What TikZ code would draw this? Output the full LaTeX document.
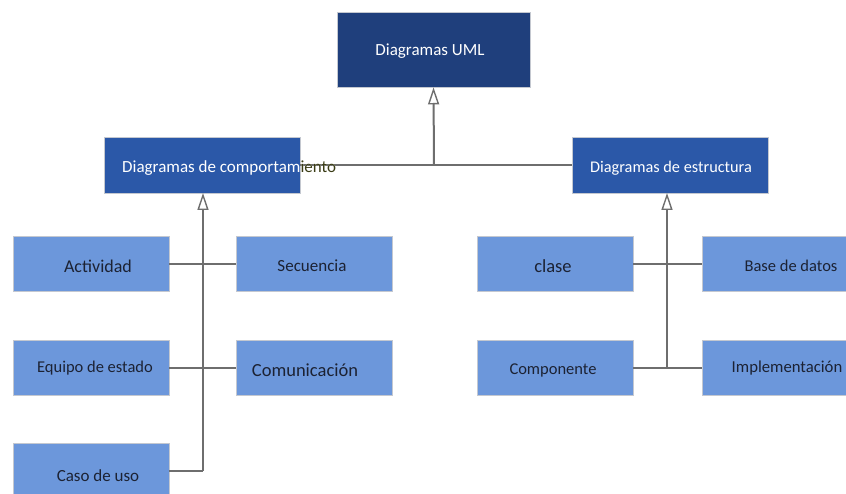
\documentclass[tikz,border=0pt]{standalone}
\usepackage{fontspec}
\setmainfont{Carlito}
\usetikzlibrary{arrows.meta}
\definecolor{topblue}{HTML}{1F3F7C}
\definecolor{midblue}{HTML}{2B58A8}
\definecolor{lowblue}{HTML}{6C97DB}
\definecolor{boxedge}{HTML}{C4C8D0}
\definecolor{linegray}{HTML}{6E6E6E}
\definecolor{lowtext}{HTML}{1C2233}
\begin{document}
\begin{tikzpicture}[x=1pt,y=-1pt,
  topbox/.style={draw=boxedge,line width=0.8pt,fill=topblue,minimum width=193pt,minimum height=75pt,inner sep=0pt},
  midbox/.style={draw=boxedge,line width=0.8pt,fill=midblue,minimum width=196pt,minimum height=56pt,inner sep=0pt},
  lowbox/.style={draw=boxedge,line width=0.8pt,fill=lowblue,minimum width=156pt,minimum height=55pt,inner sep=0pt},
  toplabel/.style={text=white,inner sep=0pt,font=\fontsize{17}{19}\selectfont},
  lowlabel/.style={text=lowtext,inner sep=0pt,font=\fontsize{17}{19}\selectfont},
  conn/.style={draw=linegray,line width=2pt},
  gen/.style={conn,-{Triangle[open,length=17pt,width=11pt,line width=1.4pt]}}
]
\useasboundingbox[fill=white] (0,0) rectangle (846,494);

% top
\node[topbox] (uml) at (433.5,49.5) {};
\node[toplabel] (umlt) at (430,51) {Diagramas UML};

% middle
\node[midbox] (comp) at (202,165) {};
\node[midbox] (estr) at (670,165) {};
\node[toplabel,font=\fontsize{16.3}{18}\selectfont] (estrt) at (671,168) {Diagramas de estructura};

% lower left
\node[lowbox] (act) at (91,264) {};
\node[lowbox] (sec) at (314.5,264) {};
\node[lowbox] (equ) at (91,367.5) {};
\node[lowbox] (com) at (314.5,367.5) {};
\node[lowbox] (cas) at (91,470.5) {};
% lower right
\node[lowbox] (cla) at (555,264) {};
\node[lowbox] (bas) at (780,264) {};
\node[lowbox] (cpt) at (555,367.5) {};
\node[lowbox] (imp) at (780,367.5) {};

% connectors top
\coordinate (jtop) at (434,165);
\draw[conn] (comp.east) -- (estr.west);
\draw[gen] (jtop) -- (uml.south);

% left tree
\coordinate (lbot) at (203,471);
\coordinate (lbase) at (203,193);
\draw[conn] (act.east) -- (sec.west);
\draw[conn] (equ.east) -- (com.west);
\draw[conn] (cas.east |- lbot) -- (lbot);
\draw[gen] (lbot) -- (lbase);

% right tree
\coordinate (rbot) at (667,368);
\coordinate (rbase) at (667,193);
\draw[conn] (cla.east) -- (bas.west);
\draw[conn] (cpt.east |- rbot) -- (imp.west |- rbot);
\draw[gen] (rbot) -- (rbase);

% labels on lower boxes
\node[lowlabel,font=\fontsize{18}{20}\selectfont] (actt) at (98,266) {Actividad};
\node[lowlabel] (sect) at (312,266) {Secuencia};
\node[lowlabel,font=\fontsize{16.5}{18}\selectfont] (equt) at (95,368) {Equipo de estado};
\node[lowlabel,font=\fontsize{18.5}{20}\selectfont] (comt) at (305,370) {Comunicación};
\node[lowlabel] (cast) at (98,476) {Caso de uso};
\node[lowlabel,font=\fontsize{18.5}{20}\selectfont] (clat) at (553,266) {clase};
\node[lowlabel,font=\fontsize{16.5}{18}\selectfont] (bast) at (791,266) {Base de datos};
\node[lowlabel,font=\fontsize{16.5}{18}\selectfont] (cptt) at (553,370) {Componente};
\node[lowlabel,font=\fontsize{16.7}{18}\selectfont] (impt) at (787,368) {Implementación};

% overflowing label of comportamiento
\node[toplabel,anchor=west] (compt) at (122,168) {Diagramas de comportamiento};
\begin{scope}
\clip (300.5,140) rectangle (360,195);
\node[toplabel,text=lowtext!70!yellow!60!black,anchor=west] (compt2) at (122,168) {Diagramas de comportamiento};
\end{scope}
\end{tikzpicture}
\end{document}
